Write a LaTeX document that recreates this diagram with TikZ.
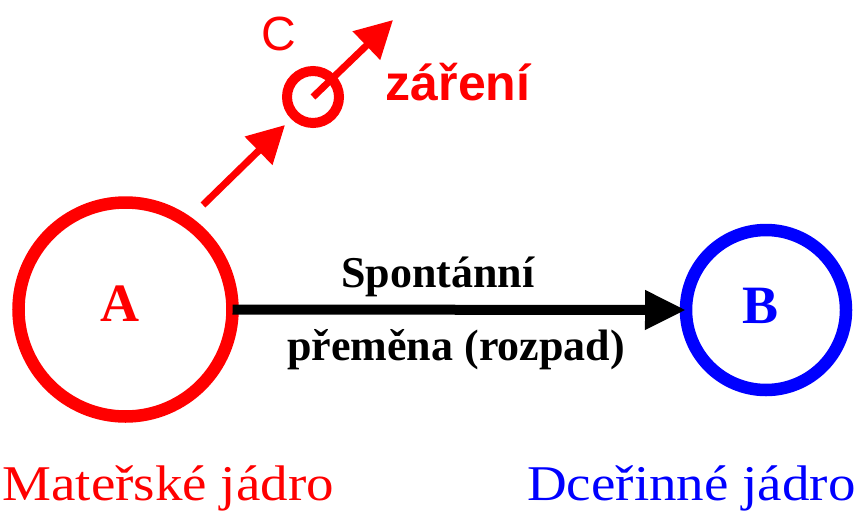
\documentclass[tikz,border=0pt]{standalone}
\usepackage{fontspec}
\setmainfont{Liberation Serif}
\newfontfamily\labelsans{Liberation Sans}
\usetikzlibrary{arrows.meta}
\definecolor{nucred}{RGB}{255,0,0}
\definecolor{nucblue}{RGB}{0,0,255}
\tikzset{
  nucleus/.style={circle, draw=#1, line width=12.5pt, inner sep=0pt, outer sep=0pt},
  letter/.style={anchor=base, font=\fontsize{54}{54}\selectfont\bfseries},
  caption/.style={anchor=base, font=\fontsize{44}{44}\selectfont\bfseries},
  nucname/.style={inner sep=0pt, font=\fontsize{50}{50}\selectfont},
  decay/.style={line width=10pt, -{Triangle[length=41pt,width=37pt]}},
  ray/.style={nucred, line width=7pt, -{Triangle[length=37pt,width=38pt]}},
}
\begin{document}
\begin{tikzpicture}[x=1pt, y=-1pt]
  \useasboundingbox (0,0) rectangle (866,511);

  % parent and daughter nuclei
  \node[nucleus=nucred, minimum size=214pt] (A) at (125.5,309.5) {};
  \node[nucleus=nucblue, minimum size=160pt] (B) at (766,310) {};
  \node[letter, nucred] (la) at (120,321) {A};
  \node[letter, nucblue] (lb) at (760,323) {B};

  % emitted particle
  \node[circle, draw=nucred, line width=10pt, inner sep=0pt, outer sep=0pt,
        minimum size=52pt] (p) at (313,97) {};
  \coordinate (emit0) at (203,205);
  \coordinate (emit1) at (285,125);
  \coordinate (rayend) at (393,20);
  \draw[ray] (emit0) -- (emit1);
  \draw[ray] (p.center) -- (rayend);
  \node[anchor=base, nucred, font=\labelsans\fontsize{48}{48}\selectfont] (c) at (279,51) {C};
  \node[anchor=base, nucred, font=\labelsans\fontsize{50}{50}\selectfont\bfseries] (zar) at (458,100) {záření};

  % decay arrow
  \draw[decay] (A.east) -- (B.west);
  \node[caption] (t1) at (438,287) {Spontánní};
  \node[caption] (t2) at (456,360) {přeměna (rozpad)};

  % captions under the nuclei
  \node[anchor=base east, nucred, nucname] (na) at (334,500) {\scalebox{1.1}[1]{Mateřské jádro}};
  \node[anchor=base west, nucblue, nucname] (nb) at (527,500) {\scalebox{1.1}[1]{Dceřinné jádro}};
\end{tikzpicture}
\end{document}
